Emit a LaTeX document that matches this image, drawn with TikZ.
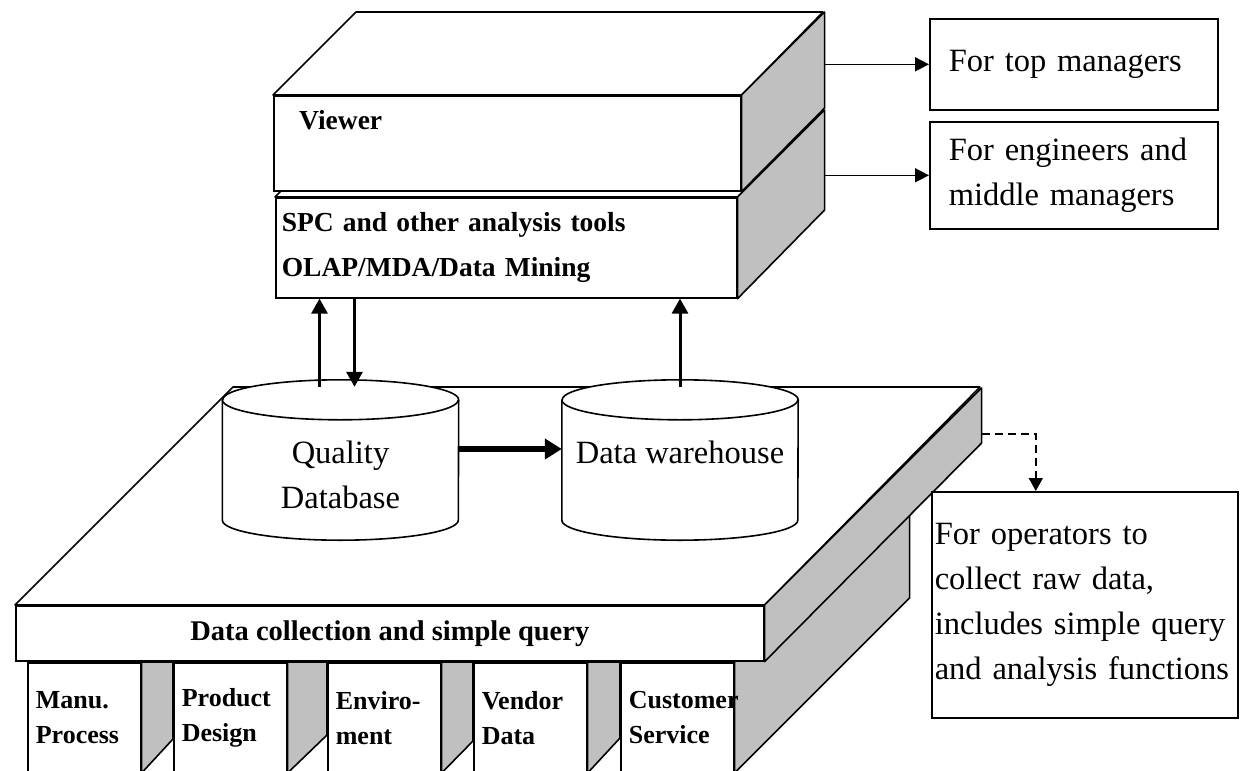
\documentclass[tikz,border=0pt]{standalone}
\usepackage{fontspec}
\setmainfont{Liberation Serif}
\usetikzlibrary{arrows.meta,positioning,calc,backgrounds}
\definecolor{sidegray}{HTML}{C0C0C0}

\begin{document}
\begin{tikzpicture}[x=1pt,y=-1pt,
  face/.style={draw,fill=white,line width=1.6pt,line join=round},
  side/.style={draw,fill=sidegray,line width=1.6pt,line join=round},
  box/.style={draw,fill=white,line width=1.6pt,anchor=north west,inner ysep=0pt},
  note/.style={box,align=left,inner xsep=19pt,text width=250pt,font=\fontsize{32.5}{45}\selectfont},
  lbl/.style={inner sep=0pt,align=left,font=\bfseries\fontsize{27.5}{45}\selectfont},
  col/.style={box,minimum height=110pt,text width=97pt,inner xsep=8pt,align=left,font=\bfseries\fontsize{26}{35}\selectfont},
  db/.style={minimum width=236pt,minimum height=120pt,inner sep=0pt},
  rim/.style={x radius=118pt,y radius=20pt},
  dbtext/.style={align=center,inner sep=0pt,font=\fontsize{32.5}{45}\selectfont},
  lnk/.style={-{Triangle[length=14pt,width=14pt]},line width=1.6pt},
  vlnk/.style={-{Triangle[length=15pt,width=16pt]},line width=3pt},
  fatlnk/.style={-{Triangle[length=17pt,width=20pt]},line width=6pt},
  dashlnk/.style={-{Triangle[length=13pt,width=14pt]},line width=1.6pt,dash pattern=on 8pt off 5pt}]
\useasboundingbox (0,0) rectangle (1240,771);
\clip (0,0) rectangle (1240,771);
% analysis and viewer layers
\node[box,minimum width=461pt,minimum height=100pt,text width=449pt,inner xsep=6pt,align=left,font=\bfseries\fontsize{27.5}{45}\selectfont] (spc) at (275,197) {SPC and other analysis tools\\OLAP/MDA/Data Mining};
\draw[face] (spc.north west) -- ++(87,-87) -- ++(461,0) -- (spc.north east) -- cycle;
\draw[side] (spc.north east) -- ++(87,-87) -- ++(0,100) -- (spc.south east) -- cycle;
\node[box,minimum width=467pt,minimum height=95pt] (viewer) at (273,95) {};
\draw[face] (viewer.north west) -- ++(83,-83) -- ++(467,0) -- (viewer.north east) -- cycle;
\draw[side] (viewer.north east) -- ++(83,-83) coordinate (vtop) -- ++(0,96) -- (viewer.south east) -- cycle;
\node[lbl,anchor=west] (viewertxt) at (299,120) {Viewer};
\node[note,minimum height=91pt] (top) at (929,18) {For top managers};
\node[note,minimum height=107pt] (eng) at (929,121) {For engineers and\\middle managers};
\draw[lnk] (vtop |- top.west) -- (top.west);
\draw[lnk] (vtop |- eng.west) -- (eng.west);
% data collection platform
\node[box,minimum width=748pt,minimum height=55pt,font=\bfseries\fontsize{28.5}{34}\selectfont] (bar) at (15,605) {Data collection and simple query};
\node[col] (manu) at (27,662) {Manu.\\Process};
\node[col] (prod) at (173,662) {Product\\Design};
\node[col] (envi) at (327,662) {Enviro-\\ment};
\node[col] (vend) at (473,662) {Vendor\\Data};
\node[col] (cust) at (620,662) {Customer\\Service};
\begin{pgfonlayer}{background}
\draw[face] (bar.north west) -- ++(218,-218) -- ++(747,0) -- (bar.north east) -- cycle;
\draw[side] (cust.north east) -- ++(175,-175) -- ++(0,111) -- ++(-175,175) -- cycle;
\draw[side] (manu.north east) -- (prod.north west) -- ([yshift=-77pt]prod.north west) -- ([yshift=-111pt]manu.north east) -- cycle;
\draw[side] (prod.north east) -- (envi.north west) -- ([yshift=-73pt]envi.north west) -- ([yshift=-111pt]prod.north east) -- cycle;
\draw[side] (envi.north east) -- (vend.north west) -- ([yshift=-79pt]vend.north west) -- ([yshift=-111pt]envi.north east) -- cycle;
\draw[side] (vend.north east) -- (cust.north west) -- ([yshift=-76pt]cust.north west) -- ([yshift=-111pt]vend.north east) -- cycle;
\end{pgfonlayer}
\draw[side] (bar.north east) -- ++(217,-217) coordinate (ptop) -- ++(0,55) -- (bar.south east) -- cycle;
% databases
\node[db] (qdb) at (340.5,460) {};
\draw[face] (qdb.north west) -- (qdb.south west) arc[rim,start angle=180,end angle=360] -- (qdb.north east) arc[rim,start angle=0,end angle=180] -- cycle;
\draw[line width=1.6pt] (qdb.north west) arc[rim,start angle=180,end angle=360];
\node[dbtext] (qdbtxt) at ([yshift=-15pt]qdb.center) {Quality\\Database};
\node[db] (dw) at (680,460) {};
\draw[face] (dw.north west) -- (dw.south west) arc[rim,start angle=180,end angle=360] -- (dw.north east) arc[rim,start angle=0,end angle=180] -- cycle;
\draw[line width=1.6pt] (dw.north west) arc[rim,start angle=180,end angle=360];
\node[dbtext] (dwtxt) at ([yshift=8pt]dw.center) {Data warehouse};
\draw[vlnk] ([xshift=-21pt,yshift=13pt]qdb.north) -- ([xshift=-21pt]qdb.north |- spc.south);
\draw[vlnk] ([xshift=14pt]qdb.north |- spc.south) -- ([xshift=14pt,yshift=13pt]qdb.north);
\draw[vlnk] ([yshift=13pt]dw.north) -- (dw.north |- spc.south);
\draw[fatlnk] ([yshift=11pt]qdb.east) -- ([yshift=11pt]dw.west);
% operators
\node[note,inner xsep=3pt,text width=300pt,minimum height=226pt] (ops) at (931,491) {For operators to\\collect raw data,\\includes simple query\\and analysis functions};
\draw[dashlnk] ([yshift=-46pt]ptop) -| ([xshift=-49pt]ops.north);
\end{tikzpicture}
\end{document}
